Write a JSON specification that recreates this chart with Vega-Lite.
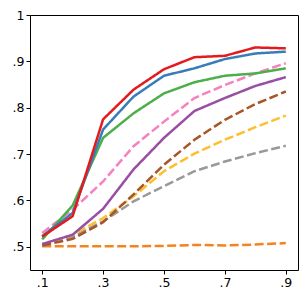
{
  "$schema": "https://vega.github.io/schema/vega-lite/v6.json",
  "autosize": "none",
  "padding": {"left": 30, "top": 15, "right": 2, "bottom": 30},
  "width": 268,
  "height": 255,
  "config": {
    "view": {"stroke": "black", "strokeWidth": 1},
    "axis": {"grid": false, "domainColor": "black", "tickColor": "black", "labelColor": "black", "labelFont": "DejaVu Sans", "labelFontSize": 12.5, "tickSize": 4, "labelPadding": 2, "domain": false}
  },
  "data": {"values": [
    {"s":"orange","x":0.1,"y":0.501},{"s":"orange","x":0.2,"y":0.501},{"s":"orange","x":0.3,"y":0.501},{"s":"orange","x":0.4,"y":0.501},{"s":"orange","x":0.5,"y":0.502},{"s":"orange","x":0.6,"y":0.504},{"s":"orange","x":0.7,"y":0.503},{"s":"orange","x":0.8,"y":0.505},{"s":"orange","x":0.9,"y":0.508},
    {"s":"gray","x":0.1,"y":0.503},{"s":"gray","x":0.2,"y":0.522},{"s":"gray","x":0.3,"y":0.555},{"s":"gray","x":0.4,"y":0.598},{"s":"gray","x":0.5,"y":0.631},{"s":"gray","x":0.6,"y":0.663},{"s":"gray","x":0.7,"y":0.684},{"s":"gray","x":0.8,"y":0.702},{"s":"gray","x":0.9,"y":0.718},
    {"s":"yellow","x":0.1,"y":0.503},{"s":"yellow","x":0.2,"y":0.526},{"s":"yellow","x":0.3,"y":0.562},{"s":"yellow","x":0.4,"y":0.609},{"s":"yellow","x":0.5,"y":0.663},{"s":"yellow","x":0.6,"y":0.701},{"s":"yellow","x":0.7,"y":0.731},{"s":"yellow","x":0.8,"y":0.758},{"s":"yellow","x":0.9,"y":0.783},
    {"s":"brown","x":0.1,"y":0.503},{"s":"brown","x":0.2,"y":0.517},{"s":"brown","x":0.3,"y":0.553},{"s":"brown","x":0.4,"y":0.613},{"s":"brown","x":0.5,"y":0.677},{"s":"brown","x":0.6,"y":0.731},{"s":"brown","x":0.7,"y":0.774},{"s":"brown","x":0.8,"y":0.808},{"s":"brown","x":0.9,"y":0.835},
    {"s":"purple","x":0.1,"y":0.506},{"s":"purple","x":0.2,"y":0.526},{"s":"purple","x":0.3,"y":0.582},{"s":"purple","x":0.4,"y":0.667},{"s":"purple","x":0.5,"y":0.735},{"s":"purple","x":0.6,"y":0.793},{"s":"purple","x":0.7,"y":0.821},{"s":"purple","x":0.8,"y":0.847},{"s":"purple","x":0.9,"y":0.866},
    {"s":"pink","x":0.1,"y":0.530},{"s":"pink","x":0.2,"y":0.580},{"s":"pink","x":0.3,"y":0.641},{"s":"pink","x":0.4,"y":0.717},{"s":"pink","x":0.5,"y":0.770},{"s":"pink","x":0.6,"y":0.821},{"s":"pink","x":0.7,"y":0.849},{"s":"pink","x":0.8,"y":0.874},{"s":"pink","x":0.9,"y":0.896},
    {"s":"green","x":0.1,"y":0.516},{"s":"green","x":0.2,"y":0.589},{"s":"green","x":0.3,"y":0.735},{"s":"green","x":0.4,"y":0.788},{"s":"green","x":0.5,"y":0.831},{"s":"green","x":0.6,"y":0.855},{"s":"green","x":0.7,"y":0.869},{"s":"green","x":0.8,"y":0.874},{"s":"green","x":0.9,"y":0.885},
    {"s":"blue","x":0.1,"y":0.523},{"s":"blue","x":0.2,"y":0.573},{"s":"blue","x":0.3,"y":0.753},{"s":"blue","x":0.4,"y":0.824},{"s":"blue","x":0.5,"y":0.869},{"s":"blue","x":0.6,"y":0.885},{"s":"blue","x":0.7,"y":0.905},{"s":"blue","x":0.8,"y":0.917},{"s":"blue","x":0.9,"y":0.921},
    {"s":"red","x":0.1,"y":0.522},{"s":"red","x":0.2,"y":0.566},{"s":"red","x":0.3,"y":0.775},{"s":"red","x":0.4,"y":0.839},{"s":"red","x":0.5,"y":0.883},{"s":"red","x":0.6,"y":0.909},{"s":"red","x":0.7,"y":0.912},{"s":"red","x":0.8,"y":0.930},{"s":"red","x":0.9,"y":0.928}
  ]},
  "mark": {"type": "line", "strokeWidth": 2.5, "clip": true},
  "encoding": {
    "x": {"field": "x", "type": "quantitative", "scale": {"domain": [0.06, 0.94], "nice": false, "zero": false},
      "axis": {"values": [0.1, 0.3, 0.5, 0.7, 0.9], "title": null, "labelExpr": "replace(format(datum.value, '.1f'), '0.', '.')"}},
    "y": {"field": "y", "type": "quantitative", "scale": {"domain": [0.45, 1.0], "nice": false, "zero": false},
      "axis": {"values": [0.5, 0.6, 0.7, 0.8, 0.9, 1.0], "title": null, "labelExpr": "datum.value >= 0.999 ? '1' : replace(format(datum.value, '.1f'), '0.', '.')"}},
    "color": {"field": "s", "type": "nominal", "legend": null,
      "scale": {"domain": ["orange","gray","yellow","brown","purple","pink","green","blue","red"],
        "range": ["#f58220","#999999","#fdbf2f","#a65628","#984ea3","#f781bf","#4daf4a","#377eb8","#e41a1c"]}},
    "strokeDash": {"field": "s", "type": "nominal", "legend": null,
      "scale": {"domain": ["orange","gray","yellow","brown","purple","pink","green","blue","red"],
        "range": [[9,3.5],[9,3.5],[9,3.5],[9,3.5],[1,0],[9,3.5],[1,0],[1,0],[1,0]]}}
  }
}
